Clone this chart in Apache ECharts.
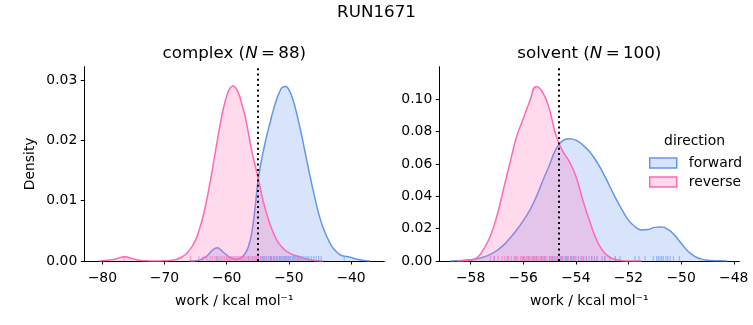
<!DOCTYPE html>
<html>
<head>
<meta charset="utf-8">
<script src="https://cdn.jsdelivr.net/npm/echarts@6/dist/echarts.min.js"></script>
<style>
html, body { margin: 0; padding: 0; background: #fff; }
#chart { width: 753px; height: 325px; }
</style>
</head>
<body>
<div id="chart"></div>
<script>
// ---- complex leg: KDE of work values, sampled on a 0.5 kcal/mol grid ----
const complexGrid = [-81, -80.5, -80, -79.5, -79, -78.5, -78, -77.5, -77, -76.5,
  -76, -75.5, -75, -74.5, -74, -73.5, -73, -72.5, -72, -71.5,
  -71, -70.5, -70, -69.5, -69, -68.5, -68, -67.5, -67, -66.5,
  -66, -65.5, -65, -64.5, -64, -63.5, -63, -62.5, -62, -61.5,
  -61, -60.5, -60, -59.5, -59, -58.5, -58, -57.5, -57, -56.5,
  -56, -55.5, -55, -54.5, -54, -53.5, -53, -52.5, -52, -51.5,
  -51, -50.5, -50, -49.5, -49, -48.5, -48, -47.5, -47, -46.5,
  -46, -45.5, -45, -44.5, -44, -43.5, -43, -42.5, -42, -41.5,
  -41, -40.5, -40, -39.5, -39, -38.5, -38, -37.5, -37];
const complexForward = [null, null, null, null, null, null, null, null, null, null,
  null, null, null, null, null, null, null, null, null, null,
  null, null, null, null, null, null, null, null, null, null,
  0, 0.00001, 0.00003, 0.0001, 0.0003, 0.0006, 0.0010, 0.0016, 0.0020, 0.0022,
  0.0019, 0.0014, 0.0010, 0.0006, 0.0004, 0.0003, 0.0004, 0.0007, 0.0013, 0.0024,
  0.0045, 0.0082, 0.0130, 0.0162, 0.0187, 0.0210, 0.0230, 0.0250, 0.0267, 0.0280,
  0.0288, 0.0289, 0.0284, 0.0272, 0.0255, 0.0234, 0.0211, 0.0186, 0.0161, 0.0136,
  0.0113, 0.0091, 0.0071, 0.0056, 0.0043, 0.0032, 0.0023, 0.0017, 0.0012, 0.0009,
  0.0008, 0.0007, 0.0006, 0.0004, 0.0003, 0.0002, 0.0001, 0.00003, 0];
const complexReverse = [null, 0, 0.00005, 0.0001, 0.00015, 0.0002, 0.0003, 0.00045, 0.0006, 0.0007,
  0.00065, 0.0005, 0.00035, 0.0002, 0.00012, 0.00006, 0.00003, 0.00002, 0.00001, 0.00001,
  0.00001, 0.00002, 0.00003, 0.00006, 0.0001, 0.0002, 0.0003, 0.0005, 0.0008, 0.0012,
  0.0018, 0.0025, 0.0035, 0.0049, 0.0066, 0.0087, 0.0112, 0.0140, 0.0170, 0.0200,
  0.0229, 0.0254, 0.0273, 0.0286, 0.0290, 0.0286, 0.0275, 0.0258, 0.0238, 0.0212,
  0.0184, 0.0162, 0.0140, 0.0116, 0.0094, 0.0076, 0.0060, 0.0047, 0.0036, 0.0028,
  0.0022, 0.0017, 0.0014, 0.0011, 0.0009, 0.0008, 0.0006, 0.0004, 0.0003, 0.0002,
  0.0001, 0.00005, 0.00002, 0, null, null, null, null, null, null,
  null, null, null, null, null, null, null, null, null];
// individual work samples (rug)
const complexForwardRug = [-61.6, -56.5, -55.8, -55.3, -54.9, -54.5, -54.2, -53.9, -53.6, -53.3, -53.0, -52.9,
  -52.8, -52.5, -52.3, -52.0, -51.8, -51.5, -51.3, -51.1, -50.9, -50.7, -50.5, -50.3, -50.1, -49.9, -49.7,
  -49.4, -49.2, -49.0, -48.7, -48.5, -48.2, -48.0, -47.7, -47.4, -47.1, -46.8, -46.4, -46.0, -45.6, -45.2, -44.8, -41.1];
const complexReverseRug = [-76.5, -65.8, -64.5, -63.8, -63.2, -62.7, -62.3, -61.9, -61.5, -61.2, -60.9, -60.6,
  -60.3, -60.0, -59.8, -59.6, -59.4, -59.2, -59.0, -58.8, -58.6, -58.4, -58.2, -58.0, -57.8, -57.6, -57.4,
  -57.2, -57.0, -56.7, -56.4, -56.1, -55.8, -55.5, -55.2, -54.9, -54.5, -54.1, -53.6, -53.0, -52.3, -51.5, -50.5, -48.5];
const complexEstimate = -54.95;

// ---- solvent leg: KDE sampled on a 0.25 kcal/mol grid ----
const solventGrid = [-59, -58.75, -58.5, -58.25, -58, -57.75, -57.5, -57.25, -57, -56.75, -56.5, -56.25,
  -56, -55.75, -55.5, -55.25, -55, -54.75, -54.5, -54.25, -54, -53.75, -53.5, -53.25,
  -53, -52.75, -52.5, -52.25, -52, -51.75, -51.5, -51.25, -51, -50.75, -50.5, -50.25,
  -50, -49.75, -49.5, -49.25, -49, -48.75, -48.5, -48.25, -48];
const solventForward = [null, 0, 0.0002, 0.0004, 0.0008, 0.0014, 0.0025, 0.0041, 0.0065, 0.0098, 0.0143, 0.0192,
  0.0250, 0.0315, 0.0400, 0.0500, 0.0595, 0.0695, 0.0745, 0.0757, 0.0748, 0.0720, 0.0680, 0.0625,
  0.0555, 0.0475, 0.0392, 0.0318, 0.0253, 0.0212, 0.0192, 0.0195, 0.0208, 0.0210, 0.0195, 0.0160,
  0.0110, 0.0062, 0.0030, 0.0013, 0.0005, 0.0002, 0.0001, 0, null];
const solventReverse = [null, null, 0, 0.0001, 0.0005, 0.0022, 0.0075, 0.0155, 0.0280, 0.0445, 0.0610, 0.0770,
  0.0880, 0.0990, 0.1080, 0.1040, 0.0935, 0.0775, 0.0680, 0.0615, 0.0525, 0.0385, 0.0258, 0.0145,
  0.0068, 0.0027, 0.0009, 0.0002, 0, 0, 0, null, null, null, null, null,
  null, null, null, null, null, null, null, null, null];
const solventForwardRug = [-57.1, -56.6, -56.3, -56.0, -55.8, -55.6, -55.5, -55.3, -55.2, -55.0, -54.9, -54.8,
  -54.7, -54.6, -54.55, -54.5, -54.4, -54.35, -54.3, -54.2, -54.15, -54.1, -54.0, -53.9, -53.8, -53.7,
  -53.6, -53.5, -53.4, -53.3, -53.2, -53.0, -52.9, -52.7, -52.5, -52.32, -51.75, -51.6, -51.37, -51.06,
  -50.93, -50.87, -50.80, -50.74, -50.68, -50.58, -50.51, -50.42, -50.29, -50.07];
const solventReverseRug = [-57.25, -57.1, -56.95, -56.8, -56.7, -56.55, -56.45, -56.35, -56.25, -56.2, -56.1,
  -56.05, -56.0, -55.95, -55.9, -55.85, -55.8, -55.75, -55.7, -55.65, -55.6, -55.55, -55.5, -55.45, -55.4,
  -55.35, -55.3, -55.25, -55.2, -55.15, -55.1, -55.0, -54.95, -54.9, -54.85, -54.75, -54.7, -54.6, -54.5,
  -54.4, -54.3, -54.2, -54.05, -53.9, -53.75, -53.6, -53.4, -53.2, -52.9, -52.5];
const solventEstimate = -54.64;

// ---- axis ticks ----
const complexXTicks = [-80, -70, -60, -50, -40];
const complexYTicks = [0, 0.01, 0.02, 0.03];
const solventXTicks = [-58, -56, -54, -52, -50, -48];
const solventYTicks = [0, 0.02, 0.04, 0.06, 0.08, 0.10];

const FONT = 'DejaVu Sans';
const BLUE = '#6495ED';
const PINK = '#FF69B4';
const BLUE_FILL = 'rgba(100,149,237,0.25)';
const PINK_FILL = 'rgba(255,105,180,0.25)';

const pairs = (xs, ys) => xs.map((x, i) => [x, ys[i]]).filter(p => p[1] !== null);
const withMinus = v => String(v).replace('-', '\u2212');

function xAxisFor(idx, min, max, ticks) {
  return {
    gridIndex: idx, type: 'value', min: min, max: max,
    axisLine: { show: true, onZero: false, lineStyle: { color: '#000', width: 1 } },
    axisTick: { show: true, length: 3.5, customValues: ticks, lineStyle: { color: '#000', width: 1 } },
    axisLabel: { customValues: ticks, formatter: withMinus, color: '#000', fontSize: 13.9, fontFamily: FONT, margin: 10 },
    splitLine: { show: false },
    name: 'work / kcal mol\u207B\u00B9', nameLocation: 'middle', nameGap: 33,
    nameTextStyle: { color: '#000', fontSize: 13.9, fontFamily: FONT }
  };
}
function yAxisFor(idx, max, ticks, name) {
  return {
    gridIndex: idx, type: 'value', min: 0, max: max,
    axisLine: { show: true, onZero: false, lineStyle: { color: '#000', width: 1 } },
    axisTick: { show: true, length: 3.5, customValues: ticks, lineStyle: { color: '#000', width: 1 } },
    axisLabel: { customValues: ticks, formatter: v => v.toFixed(2), color: '#000', fontSize: 13.9, fontFamily: FONT, margin: 7 },
    splitLine: { show: false },
    name: name, nameLocation: 'middle', nameGap: 47,
    nameTextStyle: { color: '#000', fontSize: 13.9, fontFamily: FONT }
  };
}
function kde(name, idx, xs, ys, color, fill, z, estimate) {
  const s = {
    name: name, type: 'line', xAxisIndex: idx, yAxisIndex: idx,
    data: pairs(xs, ys), smooth: 0.5, showSymbol: false, silent: true, z: z,
    lineStyle: { color: color, width: 1.5 },
    itemStyle: { color: color },
    areaStyle: { color: fill, opacity: 1 }
  };
  if (estimate !== undefined) {
    s.markLine = {
      silent: true, symbol: 'none', label: { show: false },
      lineStyle: { color: '#000', width: 2, type: [2, 3.3] },
      data: [{ xAxis: estimate }]
    };
  }
  return s;
}
function rug(name, idx, xs, color) {
  return {
    name: name, type: 'scatter', xAxisIndex: idx, yAxisIndex: idx, silent: true, z: 4,
    data: xs.map(x => [x, 0]), symbol: 'rect', symbolSize: [1.2, 5], symbolOffset: [0, -2.5],
    itemStyle: { color: color, opacity: 0.55 }
  };
}

const chart = echarts.init(document.getElementById('chart'), null, { renderer: 'canvas' });
chart.setOption({
  animation: false,
  backgroundColor: '#fff',
  textStyle: { fontFamily: FONT },
  grid: [
    { left: 84.3, top: 66.7, width: 300, height: 194.3 },
    { left: 439.3, top: 66.7, width: 300, height: 194.3 }
  ],
  xAxis: [
    xAxisFor(0, -82.9, -34.65, complexXTicks),
    xAxisFor(1, -59.19, -47.79, solventXTicks)
  ],
  yAxis: [
    yAxisFor(0, 0.0322, complexYTicks, 'Density'),
    yAxisFor(1, 0.1202, solventYTicks, '')
  ],
  legend: {
    orient: 'vertical', left: 649, top: 156, padding: 0,
    itemWidth: 27, itemHeight: 10, itemGap: 5, selectedMode: false,
    textStyle: { color: '#000', fontSize: 13.9, fontFamily: FONT, padding: [0, 0, 0, 7] },
    data: [
      { name: 'forward', icon: 'rect', itemStyle: { color: BLUE_FILL, borderColor: BLUE, borderWidth: 1.5 } },
      { name: 'reverse', icon: 'rect', itemStyle: { color: PINK_FILL, borderColor: PINK, borderWidth: 1.5 } }
    ]
  },
  graphic: [
    { type: 'text', x: 376.5, y: 13, style: { text: 'RUN1671', fontSize: 16.7, fontFamily: FONT, fill: '#000', align: 'center', verticalAlign: 'middle' } },
    { type: 'text', x: 234.3, y: 53.5, style: { text: 'complex ({i|N}\u2009=\u200988)', fontSize: 16.7, fontFamily: FONT, fill: '#000', align: 'center', verticalAlign: 'middle',
      rich: { i: { fontStyle: 'italic', fontSize: 16.7, fontFamily: FONT, fill: '#000' } } } },
    { type: 'text', x: 589.3, y: 53.5, style: { text: 'solvent ({i|N}\u2009=\u2009100)', fontSize: 16.7, fontFamily: FONT, fill: '#000', align: 'center', verticalAlign: 'middle',
      rich: { i: { fontStyle: 'italic', fontSize: 16.7, fontFamily: FONT, fill: '#000' } } } },
    { type: 'text', x: 694.5, y: 141.5, style: { text: 'direction', fontSize: 13.9, fontFamily: FONT, fill: '#000', align: 'center', verticalAlign: 'middle' } }
  ],
  series: [
    kde('forward', 0, complexGrid, complexForward, BLUE, BLUE_FILL, 2),
    kde('reverse', 0, complexGrid, complexReverse, PINK, PINK_FILL, 3, complexEstimate),
    rug('forward rug', 0, complexForwardRug, BLUE),
    rug('reverse rug', 0, complexReverseRug, PINK),
    kde('forward', 1, solventGrid, solventForward, BLUE, BLUE_FILL, 2),
    kde('reverse', 1, solventGrid, solventReverse, PINK, PINK_FILL, 3, solventEstimate),
    rug('forward rug', 1, solventForwardRug, BLUE),
    rug('reverse rug', 1, solventReverseRug, PINK)
  ]
});
</script>
</body>
</html>
